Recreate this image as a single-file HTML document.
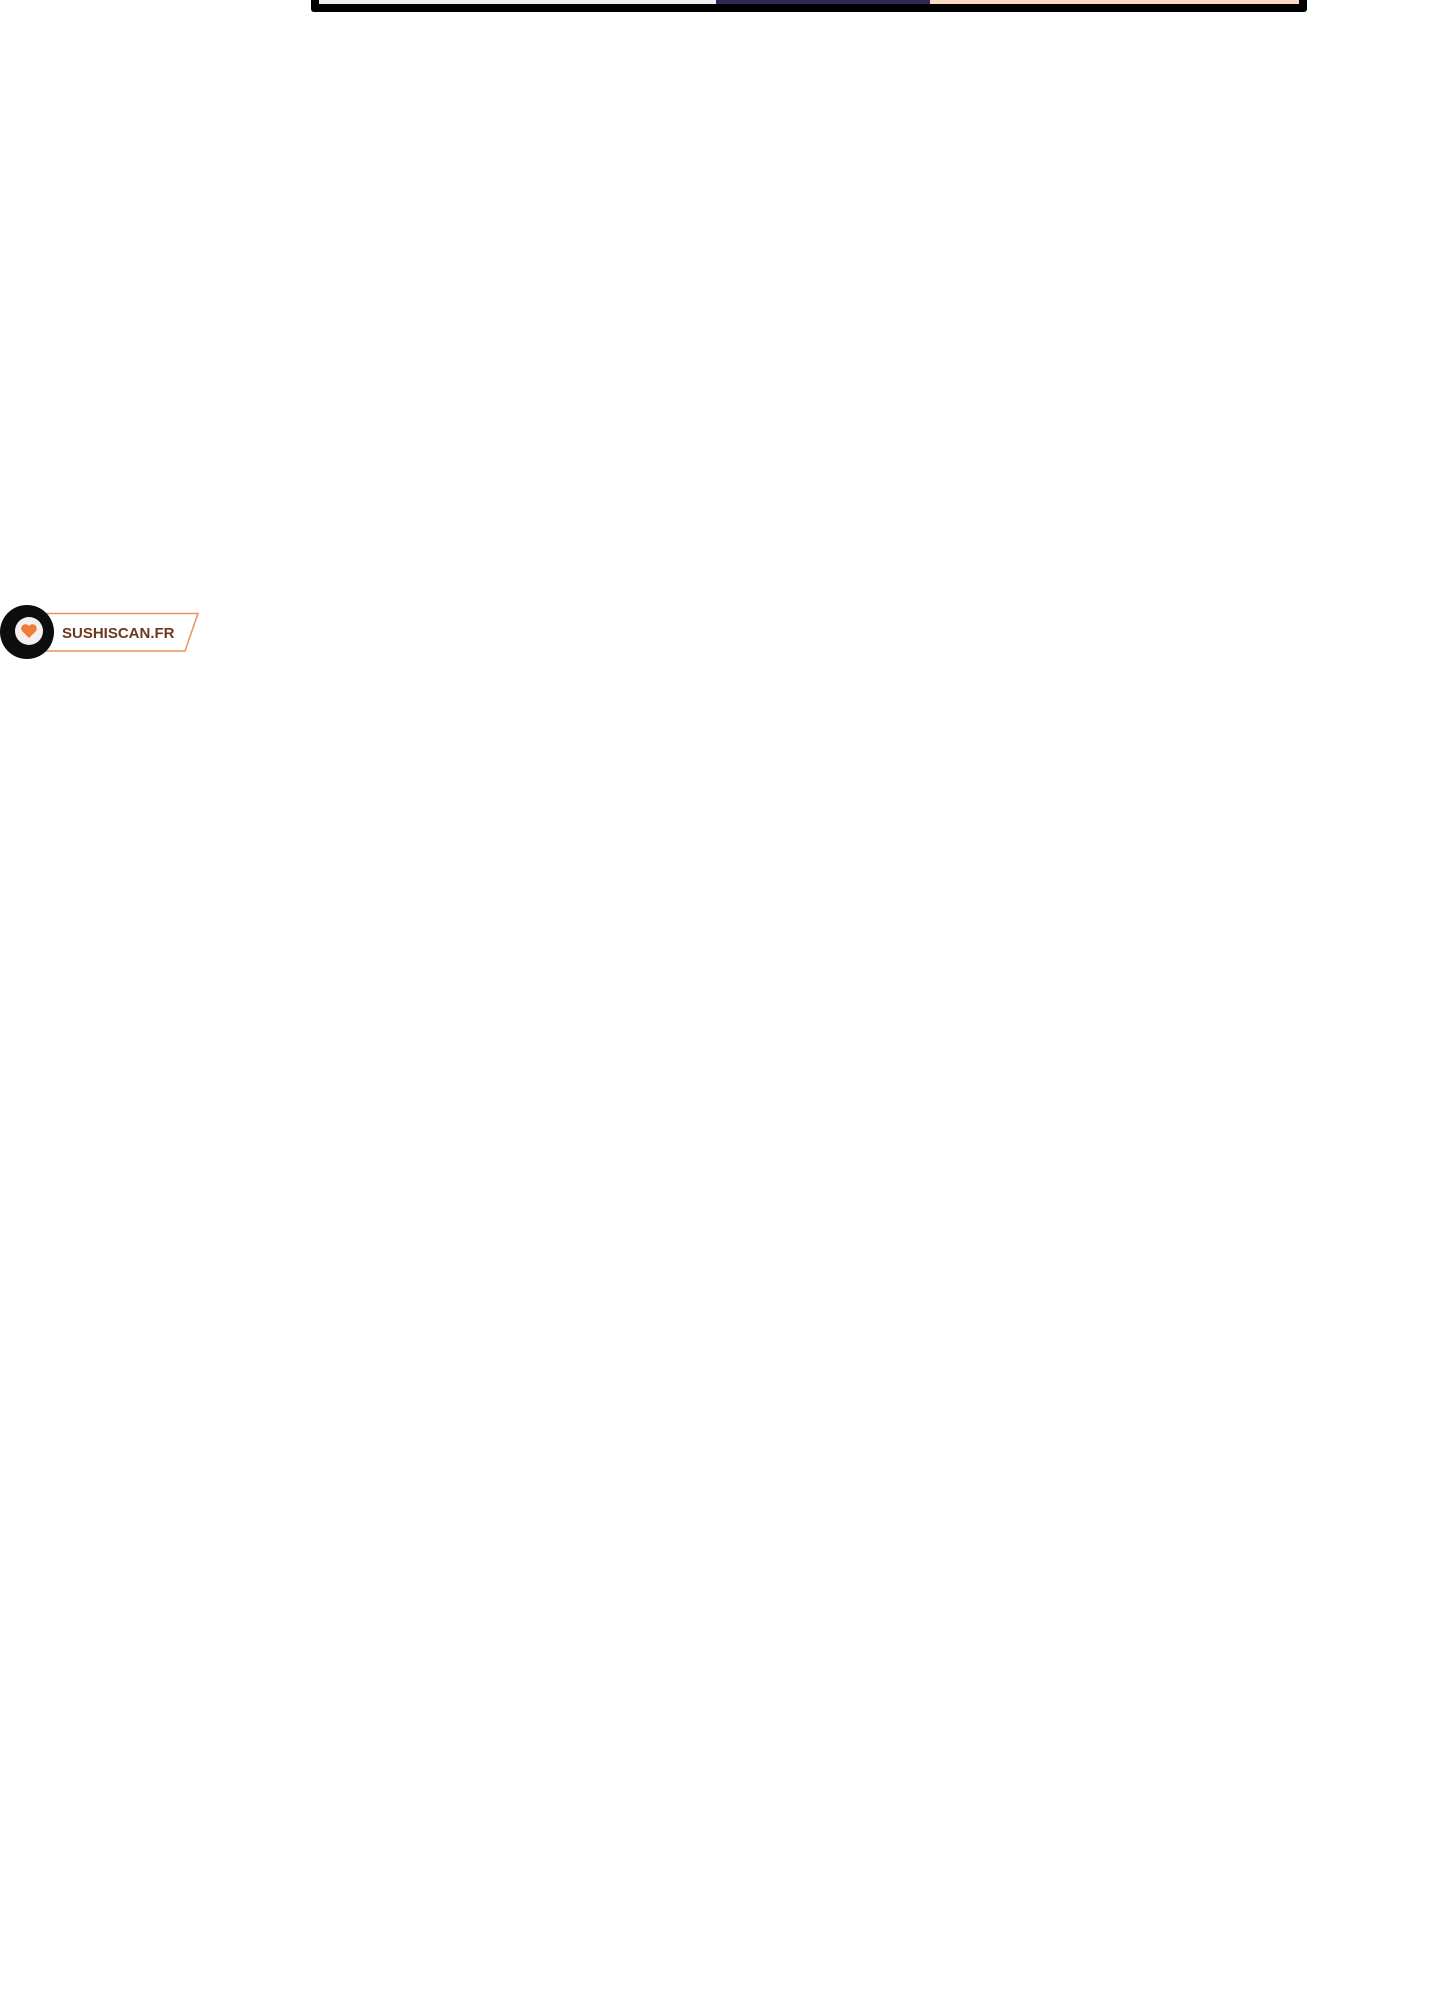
<!DOCTYPE html>
<html><head><style>
body{margin:0;width:1440px;height:2000px;background:#fff;position:relative;overflow:hidden;font-family:"Liberation Sans",sans-serif}
.a{position:absolute}
</style></head><body>
<div class="a" style="left:311px;top:0;width:996px;height:12px;background:#000;border-radius:0 0 3px 3px"></div>
<div class="a" style="left:319px;top:0;width:400px;height:4px;background:#f0f0f2"></div>
<div class="a" style="left:716px;top:0;width:214px;height:4px;background:#2e2a55"></div>
<div class="a" style="left:930px;top:0;width:369px;height:4px;background:#fbd9c4"></div>
<svg class="a" style="left:0;top:600px" width="210" height="64">
<polygon points="46,13.5 198,13.5 185,51 46,51" fill="#fff" stroke="#e8935a" stroke-width="1.5"/>
<circle cx="27" cy="32" r="27" fill="#0d0d0d"/>
<circle cx="29" cy="31" r="14" fill="#f5f0ee"/>
<path d="M29,38 L22,31 A4,4 0 0 1 29,26 A4,4 0 0 1 36,31 Z" fill="#ef7d3a"/>
<text x="62" y="38" font-family="Liberation Sans,sans-serif" font-weight="bold" font-size="15" fill="#6b3a1e">SUSHISCAN.FR</text>
</svg>
</body></html>
